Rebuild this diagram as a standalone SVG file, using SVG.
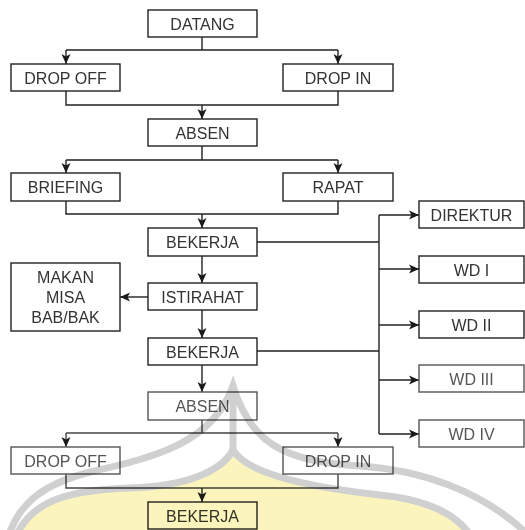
<svg xmlns="http://www.w3.org/2000/svg" width="525" height="530" viewBox="0 0 525 530">
  <style>
    .box rect { fill: #ffffff; stroke: #222222; stroke-width: 1.4; }
    .box text { font-family: "Liberation Sans", Arial, sans-serif; font-size: 16px; fill: #333333; text-anchor: middle; }
    .soft rect { stroke: #555555; }
    .soft text { fill: #555555; }
    .links path { fill: none; stroke: #222222; stroke-width: 1.4; }
    .links path.soft { stroke: #444444; }
    .links path.arrow { marker-end: url(#head); }
    .mark { mix-blend-mode: multiply; }
  </style>
  <defs>
    <marker id="head" viewBox="0 0 10 10" refX="10" refY="5" markerWidth="11" markerHeight="10" markerUnits="userSpaceOnUse" orient="auto">
      <path d="M0,0.5 L10,5 L0,9.5 L2.5,5 z" fill="#1a1a1a"/>
    </marker>
  </defs>
  <rect width="525" height="530" fill="#ffffff"/>

  <!-- connectors -->
  <g id="connectors" class="links">
    <!-- DATANG split -->
    <path d="M202,37 V50 M66,50 H338"/>
    <path class="arrow" d="M66,50 V64"/>
    <path class="arrow" d="M338,50 V64"/>
    <!-- merge to ABSEN -->
    <path d="M66,91 V105 H338 V91"/>
    <path class="arrow" d="M202,105 V119"/>
    <!-- ABSEN split -->
    <path d="M202,146 V160 M66,160 H338"/>
    <path class="arrow" d="M66,160 V173"/>
    <path class="arrow" d="M338,160 V173"/>
    <!-- merge to BEKERJA -->
    <path d="M66,201 V214 H338 V201"/>
    <path class="arrow" d="M202,214 V228"/>
    <!-- main column -->
    <path class="arrow" d="M202,256 V283"/>
    <path class="arrow" d="M148,297 H120"/>
    <path class="arrow" d="M202,310 V338"/>
    <path class="arrow" d="M202,365 V392"/>
    <!-- BEKERJA to leadership bus -->
    <path d="M257,242 H379 M257,351 H379 M379,215 V434"/>
    <path class="arrow" d="M379,215 H419"/>
    <path class="arrow" d="M379,269 H419"/>
    <path class="arrow" d="M379,325 H419"/>
    <path class="arrow" d="M379,380 H419"/>
    <path class="arrow" d="M379,434 H419"/>
    <!-- second ABSEN split -->
    <path class="soft" d="M202,420 V433 M66,433 H338"/>
    <path class="arrow soft" d="M66,433 V447"/>
    <path class="arrow soft" d="M338,433 V447"/>
    <path class="soft" d="M66,474 V488 H338 V474"/>
    <path class="arrow" d="M202,488 V502"/>
  </g>

  <!-- nodes -->
  <g id="datang" class="box"><rect x="148" y="10" width="109" height="27"/><text x="202.5" y="29.5">DATANG</text></g>
  <g id="drop-off-1" class="box"><rect x="11" y="64" width="109" height="27"/><text x="65.5" y="83.5">DROP OFF</text></g>
  <g id="drop-in-1" class="box"><rect x="283" y="64" width="110" height="27"/><text x="338" y="83.5">DROP IN</text></g>
  <g id="absen-1" class="box"><rect x="148" y="119" width="109" height="27"/><text x="202.5" y="138.5">ABSEN</text></g>
  <g id="briefing" class="box"><rect x="11" y="173" width="109" height="28"/><text x="65.5" y="193">BRIEFING</text></g>
  <g id="rapat" class="box"><rect x="283" y="173" width="110" height="28"/><text x="338" y="193">RAPAT</text></g>
  <g id="bekerja-1" class="box"><rect x="148" y="228" width="109" height="28"/><text x="202.5" y="248">BEKERJA</text></g>
  <g id="istirahat" class="box"><rect x="148" y="283" width="109" height="27"/><text x="202.5" y="302.5">ISTIRAHAT</text></g>
  <g id="makan" class="box"><rect x="11" y="263" width="109" height="68"/>
    <text x="65.5" y="283">MAKAN</text><text x="65.5" y="303">MISA</text><text x="65.5" y="323">BAB/BAK</text></g>
  <g id="bekerja-2" class="box"><rect x="148" y="338" width="109" height="27"/><text x="202.5" y="357.5">BEKERJA</text></g>
  <g id="absen-2" class="box soft"><rect x="148" y="392" width="109" height="28"/><text x="202.5" y="412">ABSEN</text></g>
  <g id="drop-off-2" class="box soft"><rect x="11" y="447" width="109" height="27"/><text x="65.5" y="466.5">DROP OFF</text></g>
  <g id="drop-in-2" class="box soft"><rect x="283" y="447" width="110" height="27"/><text x="338" y="466.5">DROP IN</text></g>
  <g id="bekerja-3" class="box"><rect x="148" y="502" width="109" height="27"/><text x="202.5" y="521.5">BEKERJA</text></g>
  <g id="direktur" class="box"><rect x="419" y="201" width="105" height="27"/><text x="471.5" y="220.5">DIREKTUR</text></g>
  <g id="wd-1" class="box"><rect x="419" y="256" width="105" height="27"/><text x="471.5" y="275.5">WD I</text></g>
  <g id="wd-2" class="box"><rect x="419" y="311" width="105" height="27"/><text x="471.5" y="330.5">WD II</text></g>
  <g id="wd-3" class="box soft"><rect x="419" y="365" width="105" height="27"/><text x="471.5" y="384.5">WD III</text></g>
  <g id="wd-4" class="box soft"><rect x="419" y="420" width="105" height="27"/><text x="471.5" y="439.5">WD IV</text></g>

  <!-- faint emblem in the lower half -->
  <g id="emblem" class="mark">
    <path d="M18,530 C35,500 70,490 130,488 C190,486 222,470 233,450 C245,470 290,485 380,495 C430,500 455,515 468,532 Z" fill="#fbf5bd"/>
    <g fill="none" stroke="#d0d0d0" stroke-width="7" stroke-linecap="round">
      <path d="M10,532 C20,505 40,485 90,472 C150,458 212,445 233,386 C250,440 280,462 360,466 C420,470 480,490 525,532"/>
      <path d="M18,532 C35,500 70,490 130,488 C190,486 222,470 233,450 C245,470 290,485 380,495 C430,500 455,515 468,532"/>
      <path d="M233,386 V450"/>
    </g>
  </g>
</svg>
